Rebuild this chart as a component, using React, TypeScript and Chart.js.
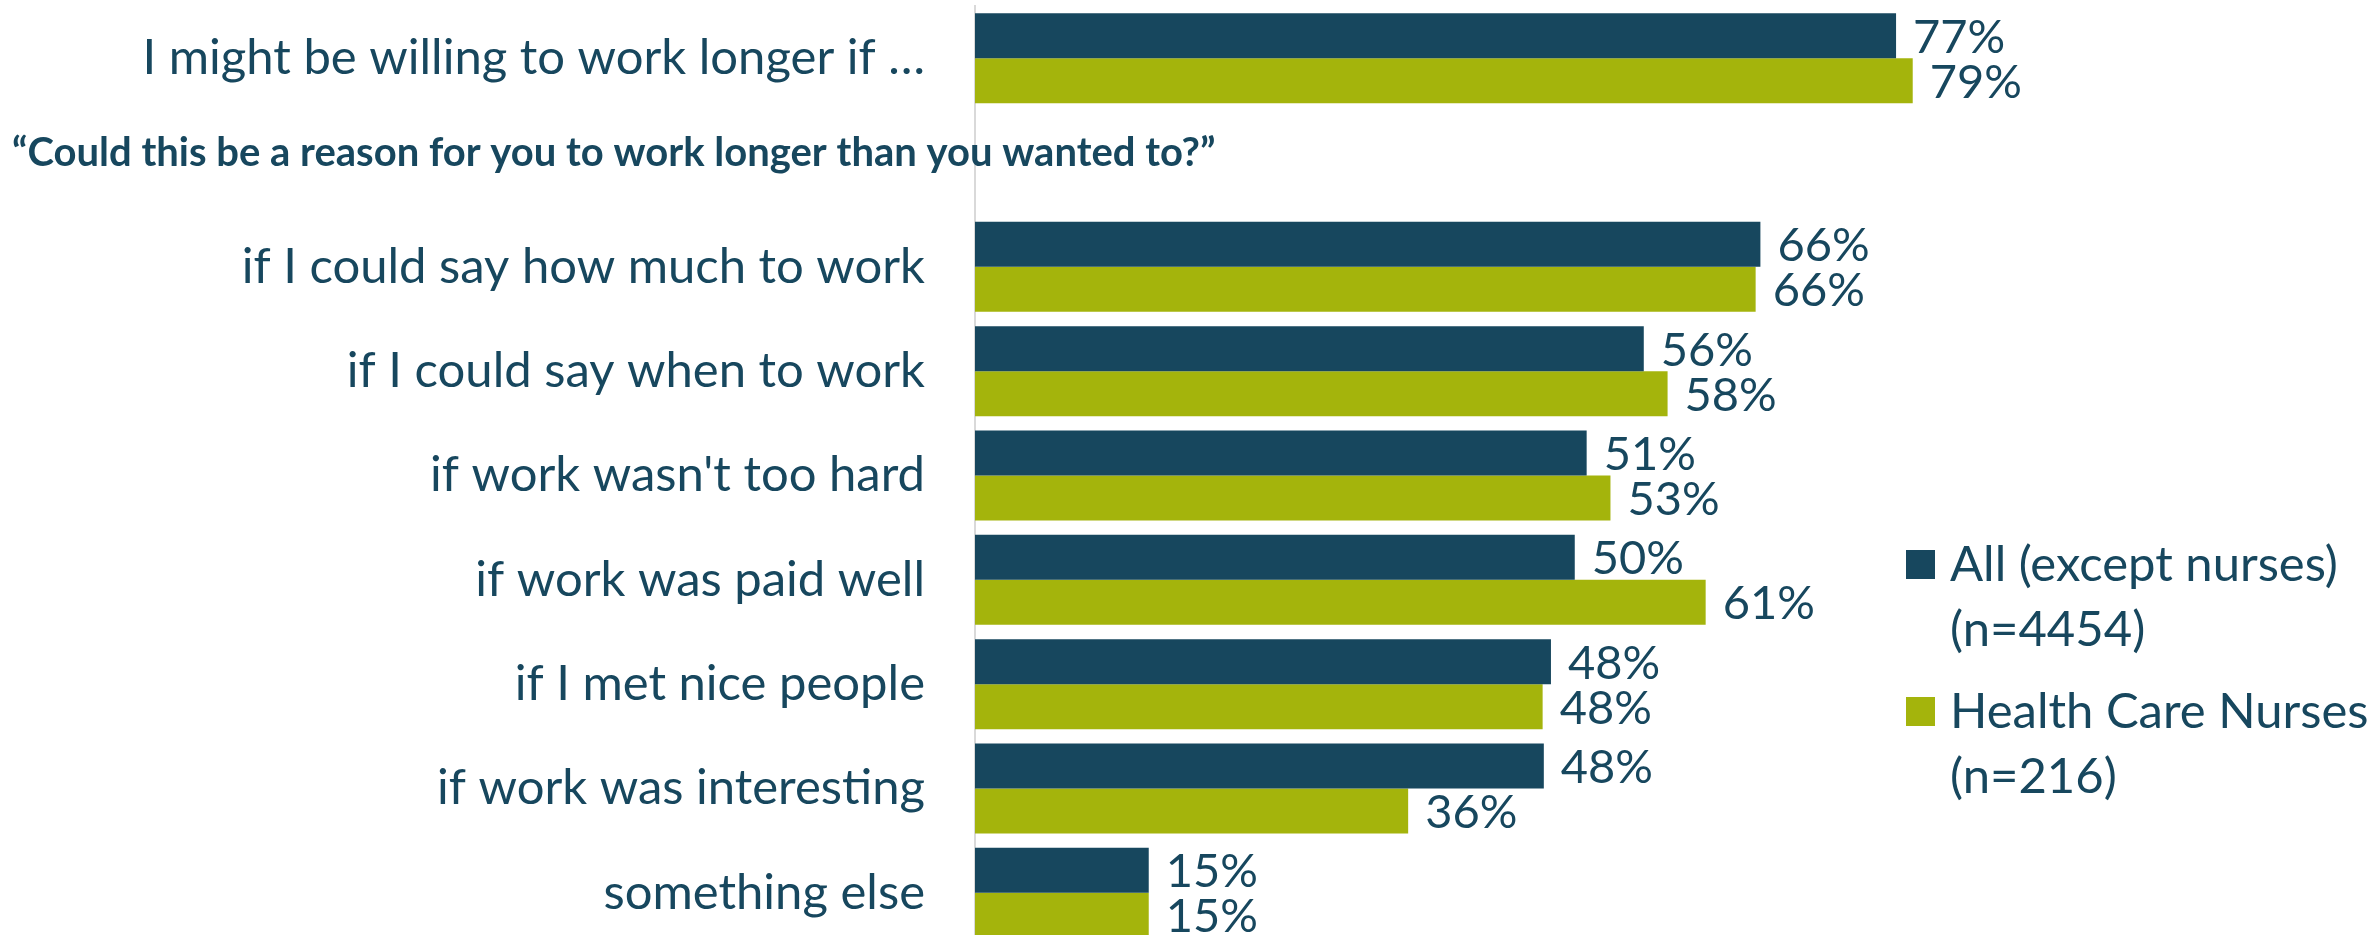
import React, { useEffect, useRef } from "react";
import { Chart, registerables } from "chart.js";

Chart.register(...registerables);

const categories = [
  "I might be willing to work longer if …",
  "",
  "if I could say how much to work",
  "if I could say when to work",
  "if work wasn't too hard",
  "if work was paid well",
  "if I met nice people",
  "if work was interesting",
  "something else",
];

const allExceptNurses = [77.4, null, 66.0, 56.2, 51.4, 50.4, 48.4, 47.8, 14.6];
const healthCareNurses = [78.8, null, 65.6, 58.2, 53.4, 61.4, 47.7, 36.4, 14.6];

const seriesNames = ["All (except nurses)", "Health Care Nurses"];
const seriesCounts = ["(n=4454)", "(n=216)"];
const questionTitle = "“Could this be a reason for you to work longer than you wanted to?”";

const DARK = "#17475E";
const GREEN = "#A4B40C";
const TEXT = "#17475E";
const FONT = "Lato";

const overlayPlugin = {
  id: "overlay",
  afterDatasetsDraw(chart: any) {
    const ctx = chart.ctx;
    ctx.save();
    ctx.fillStyle = TEXT;
    ctx.font = `47px ${FONT}`;
    ctx.textAlign = "left";
    ctx.textBaseline = "alphabetic";
    chart.data.datasets.forEach((ds: any, di: number) => {
      const meta = chart.getDatasetMeta(di);
      meta.data.forEach((bar: any, i: number) => {
        const v = ds.data[i];
        if (v === null || v === undefined) return;
        ctx.fillText(Math.round(v) + "%", bar.x + 17, bar.y + 17);
      });
    });
    // question title on the empty category row
    const ys = chart.scales.y;
    ctx.font = `bold 40px ${FONT}`;
    ctx.fillText(questionTitle, 12, ys.getPixelForValue(1) + 3);
    // legend
    ctx.font = `49px ${FONT}`;
    const colors = [DARK, GREEN];
    const tops = [550, 697];
    for (let k = 0; k < 2; k++) {
      ctx.fillStyle = colors[k];
      ctx.fillRect(1906, tops[k], 29, 29);
      ctx.fillStyle = TEXT;
      ctx.fillText(seriesNames[k], 1950, tops[k] + 31);
      ctx.fillText(seriesCounts[k], 1950, tops[k] + 96);
    }
    ctx.restore();
  },
};

export default function App() {
  const ref = useRef<HTMLCanvasElement | null>(null);
  useEffect(() => {
    if (!ref.current) return;
    const chart = new Chart(ref.current, {
      type: "bar",
      data: {
        labels: categories,
        datasets: [
          {
            label: seriesNames[0],
            data: allExceptNurses,
            backgroundColor: DARK,
            categoryPercentage: 0.863,
            barPercentage: 1,
          },
          {
            label: seriesNames[1],
            data: healthCareNurses,
            backgroundColor: GREEN,
            categoryPercentage: 0.863,
            barPercentage: 1,
          },
        ],
      },
      options: {
        indexAxis: "y",
        responsive: false,
        animation: false,
        devicePixelRatio: 1,
        layout: { padding: { top: 6, right: 204, bottom: 0, left: 0 } },
        plugins: {
          legend: { display: false },
          tooltip: { enabled: false },
          title: { display: false },
        },
        scales: {
          x: { display: false, min: 0, max: 100 },
          y: {
            afterFit: (scale: any) => {
              scale.width = 975;
              scale.paddingTop = 0;
              scale.paddingBottom = 0;
            },
            grid: { display: false, drawTicks: false },
            border: { display: true, color: "#d9d9d9", width: 2 },
            ticks: {
              padding: 50,
              color: TEXT,
              font: { family: FONT, size: 49 },
              autoSkip: false,
            },
          },
        },
      },
      plugins: [overlayPlugin],
    });
    return () => chart.destroy();
  }, []);
  return (
    <div
      style={{
        position: "fixed",
        left: 0,
        top: 0,
        width: 2369,
        height: 935,
        overflow: "hidden",
        background: "#ffffff",
      }}
    >
      <canvas ref={ref} width={2369} height={945} style={{ display: "block" }} />
    </div>
  );
}
